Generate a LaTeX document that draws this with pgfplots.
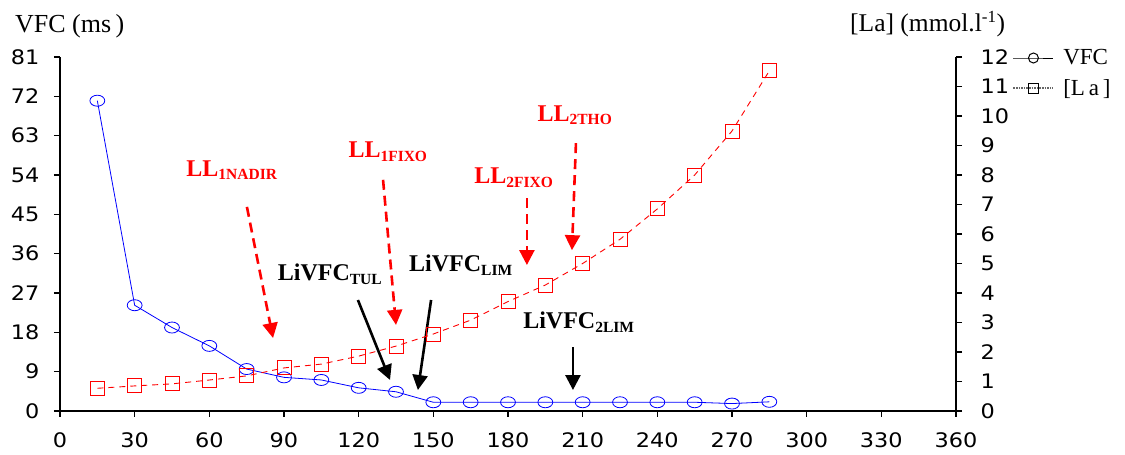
\documentclass[border=0pt]{standalone}
\usepackage{pgfplots}
\pgfplotsset{compat=1.18}
\usepackage{fontspec}
\setmainfont{Liberation Serif}
\newfontfamily\arial[FakeStretch=1.12]{DejaVu Sans}
\usetikzlibrary{arrows.meta}
\definecolor{vblue}{RGB}{0,0,255}
\definecolor{lred}{RGB}{255,0,0}
\begin{document}
\begin{tikzpicture}
\useasboundingbox (-60pt,-44pt) rectangle (1065pt,411pt);
\begin{axis}[
  scale only axis, width=896pt, height=354pt,
  xmin=0, xmax=360, ymin=0, ymax=81,
  xtick={0,30,...,360}, ytick={0,9,...,81},
  axis x line*=bottom, axis y line*=left,
  x axis line style={-, line width=1.6pt}, y axis line style={-, line width=1.6pt},
  tick style={line width=1.3pt, black}, tick align=outside, major tick length=6pt,
  ticklabel style={font=\arial\fontsize{20}{21}\selectfont},
  /pgf/number format/assume math mode=true,
  yticklabel style={xshift=-11pt},
  xticklabel style={yshift=-12pt},
  clip=false,
]
\addplot[vblue, line width=0.8pt, mark=o, mark size=5.5pt, mark options={xscale=1.35, solid, fill=white}] coordinates {
(15,71.0) (30,24.2) (45,19.1) (60,14.9) (75,9.6) (90,7.7) (105,7.1) (120,5.3) (135,4.4) (150,2.0) (165,2.0) (180,2.0) (195,2.0) (210,2.0) (225,2.0) (240,2.0) (255,2.0) (270,1.7) (285,2.1)};
% annotations
\tikzset{redarr/.style={lred, line width=2.6pt, dash pattern=on 10pt off 6pt, -{Triangle[width=15pt,length=15pt]}},
         blkarr/.style={black, line width=2.6pt, -{Triangle[width=15pt,length=15pt]}},
         ann/.style={font=\bfseries\fontsize{24}{26}\selectfont}}
\newcommand{\sub}[1]{\textsubscript{\fontsize{15.5}{15}\selectfont #1}}
\node[lred, ann] at (axis cs:69.1,55.1) {LL\sub{1NADIR}};
\draw[redarr] (axis cs:75.1,46.7) -- (axis cs:85.6,16.7);
\node[lred, ann] at (axis cs:131.8,59.3) {LL\sub{1FIXO}};
\draw[redarr] (axis cs:129.8,52.9) -- (axis cs:135.0,19.7);
\node[lred, ann] at (axis cs:182.4,53.3) {LL\sub{2FIXO}};
\draw[redarr] (axis cs:187.6,48.7) -- (axis cs:187.6,33.4);
\node[lred, ann] at (axis cs:206.9,67.7) {LL\sub{2THO}};
\draw[redarr] (axis cs:207.3,61.3) -- (axis cs:205.7,36.8);
\node[black, ann] at (axis cs:108.5,31.3) {LiVFC\sub{TUL}};
\draw[blkarr] (axis cs:119.7,25.4) -- (axis cs:132.6,7.1);
\node[black, ann] at (axis cs:161.1,33.4) {LiVFC\sub{LIM}};
\draw[blkarr] (axis cs:149.1,25.4) -- (axis cs:143.8,4.8);
\node[black, ann] at (axis cs:208.5,20.4) {LiVFC\sub{2LIM}};
\draw[blkarr] (axis cs:206.1,14.6) -- (axis cs:206.1,4.8);
\end{axis}
\begin{axis}[
  scale only axis, width=896pt, height=354pt,
  xmin=0, xmax=360, ymin=0, ymax=12,
  ytick={0,1,...,12},
  axis x line=none, axis y line*=right,
  y axis line style={-, line width=1.6pt},
  tick style={line width=1.3pt, black}, tick align=outside, major tick length=6pt,
  ticklabel style={font=\arial\fontsize{20}{21}\selectfont},
  /pgf/number format/assume math mode=true,
  yticklabel style={xshift=15pt},
  clip=false,
  legend style={at={(1.063,1.027)}, anchor=north west, draw=none, fill=none,
    font=\fontsize{23}{25}\selectfont, row sep=9pt, inner sep=0pt},
  legend cell align=left,
  legend image code/.code={\draw[mark repeat=2,mark phase=2,#1] plot coordinates {(0pt,0pt) (20pt,0pt) (40pt,0pt)}; \path (47pt,0pt);},
]
\addlegendimage{black, line width=1pt, mark=o, mark size=5pt, mark options={solid, fill=white}}
\addlegendentry{VFC}
\addlegendimage{black!60, densely dotted, line width=1.6pt, mark=square, mark size=5pt, mark options={solid, fill=white, draw=black, line width=1pt}}
\addlegendentry{[L\,a\,]}
\addplot[lred, line width=0.9pt, dash pattern=on 6pt off 5pt, mark=square, mark size=7pt, mark options={solid, fill=white}, forget plot] coordinates {
(15,0.77) (30,0.85) (45,0.92) (60,1.05) (75,1.19) (90,1.46) (105,1.59) (120,1.86) (135,2.20) (150,2.61) (165,3.08) (180,3.71) (195,4.27) (210,5.0) (225,5.82) (240,6.85) (255,8.0) (270,9.49) (285,11.53)};
\end{axis}
\node[anchor=base west, font=\fontsize{26}{28}\selectfont, inner sep=0pt] at (-45pt,378pt) {VFC (ms\,)};
\node[anchor=base west, font=\fontsize{25.5}{28}\selectfont, inner sep=0pt] at (790pt,379pt) {[La] (mmol.l\textsuperscript{\fontsize{17}{17}\selectfont -1})};
\end{tikzpicture}
\end{document}
